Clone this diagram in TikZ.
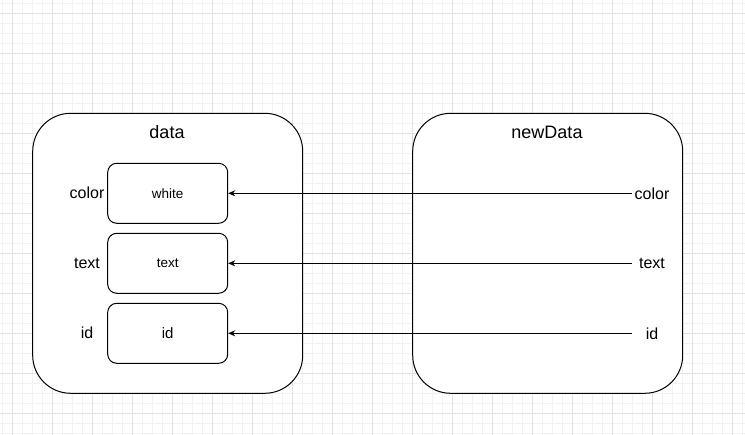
\documentclass[tikz,border=0pt]{standalone}
\usepackage{fontspec}
\setmainfont{Liberation Sans}
\usetikzlibrary{arrows.meta}
\definecolor{gridminor}{HTML}{F2F2F2}
\definecolor{gridmajor}{HTML}{E2E2E2}
\tikzset{
  outerbox/.style={draw=black, line width=1pt, rounded corners=38pt, minimum width=270pt, minimum height=280pt, inner sep=0pt},
  fieldbox/.style={draw=black, line width=1pt, rounded corners=9pt, minimum width=120pt, minimum height=60pt, inner sep=0pt},
  title/.style={font=\fontsize{18pt}{20pt}\selectfont, inner sep=0pt},
  lbl/.style={font=\fontsize{16pt}{18pt}\selectfont, inner sep=0pt, minimum width=40pt},
  conn/.style={line width=1pt, -{Stealth[length=7pt,width=6pt]}},
}
\begin{document}
\begin{tikzpicture}[x=1pt,y=-1pt]
\useasboundingbox (0,0) rectangle (745,435);
% grid
\foreach \i in {0,...,74} {
  \draw[gridminor, line width=0.6pt] ({2.7+10*\i},0) -- ({2.7+10*\i},435);
}
\foreach \j in {0,...,43} {
  \draw[gridminor, line width=0.6pt] (0,{3.3+10*\j}) -- (745,{3.3+10*\j});
}
\foreach \i in {0,...,18} {
  \draw[gridmajor, line width=0.8pt] ({12.7+40*\i},0) -- ({12.7+40*\i},435);
}
\foreach \j in {0,...,10} {
  \draw[gridmajor, line width=0.8pt] (0,{13.3+40*\j}) -- (745,{13.3+40*\j});
}
% outer boxes
\node[outerbox, fill=white] (data) at (167.7,253.3) {};
\node[outerbox, fill=white] (newdata) at (547.7,253.3) {};
\node[title] (datat) at (167,132) {data};
\node[title] (newdatat) at (547,132) {newData};
% field boxes
\node[fieldbox] (white) at (167.7,193.3) {\fontsize{13.5pt}{15pt}\selectfont white};
\node[fieldbox] (textv) at (167.7,263.3) {\fontsize{13.5pt}{15pt}\selectfont text};
\node[fieldbox] (idv) at (167.7,333.3) {\fontsize{15pt}{17pt}\selectfont id};
% left labels
\node[lbl] (lcolor) at (87,193) {color};
\node[lbl] (ltext) at (87,263) {text};
\node[lbl] (lid) at (87,333) {id};
% right labels
\node[lbl] (rcolor) at (652,193.3) {color};
\node[lbl] (rtext) at (652,263.3) {text};
\node[lbl] (rid) at (652,333.3) {id};
% connectors
\draw[conn] (rcolor.west) -- (white.east);
\draw[conn] (rtext.west) -- (textv.east);
\draw[conn] (rid.west) -- (idv.east);
\end{tikzpicture}
\end{document}
